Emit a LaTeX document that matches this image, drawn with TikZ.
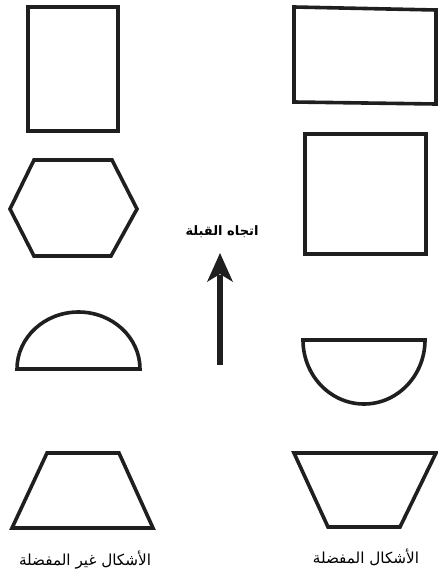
\documentclass[tikz,border=0pt]{standalone}
\usepackage{fontspec}
\newfontfamily\arabicfont[Script=Arabic]{DejaVu Sans}
\TeXXeTstate=1
\begin{document}
\begin{tikzpicture}[x=1pt,y=-1pt,
  shapeline/.style={draw=black!88,line width=3.6pt,line join=miter},
  lbl/.style={font=\arabicfont\fontsize{15.2}{17}\selectfont,inner sep=0pt}]
\useasboundingbox (0,0) rectangle (438,576);
% left column (not preferred)
\draw[shapeline] (28,7) rectangle (118,131);
\draw[shapeline] (10,209) -- (34,160) -- (112,160) -- (137,209) -- (111,256) -- (34,256) -- cycle;
\draw[shapeline] (17,369) arc[start angle=180,end angle=360,x radius=61.5,y radius=57] -- cycle;
\draw[shapeline] (47,453) -- (119,453) -- (153,528) -- (12,528) -- cycle;
% right column (preferred)
\draw[shapeline] (294,7) -- (436,10) -- (436,104) -- (294,102) -- cycle;
\draw[shapeline] (305,134) rectangle (426,254);
\draw[shapeline] (303,340) arc[start angle=180,end angle=0,x radius=61,y radius=64] -- cycle;
\draw[shapeline] (294,453) -- (436,453) -- (400,527) -- (328,527) -- cycle;
% arrow
\fill[black!88] (217,365) rectangle (223,275);
\fill[black!88] (220,253) -- (233,282) -- (220,274) -- (207,282) -- cycle;
% labels
\node[lbl,font=\arabicfont\bfseries\fontsize{13}{15}\selectfont] (qibla) at (222,232) {\beginR اتجاه القبلة\endR};
\node[lbl] (pref) at (366,557) {\beginR الأشكال المفضلة\endR};
\node[lbl] (nonpref) at (85,560) {\beginR الأشكال غير المفضلة\endR};
\end{tikzpicture}
\end{document}
